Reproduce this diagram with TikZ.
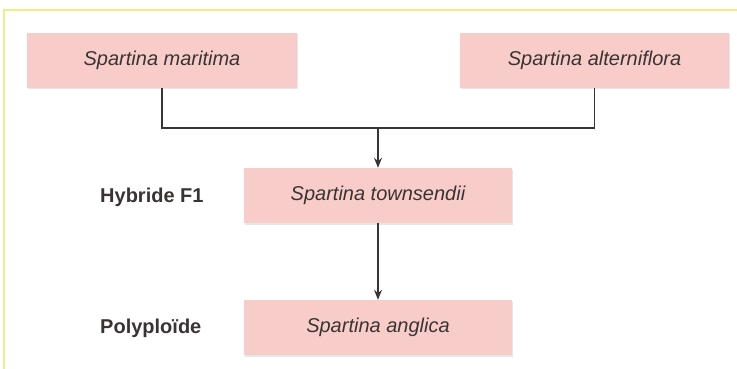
\documentclass[tikz,border=0pt]{standalone}
\usepackage{fontspec}
\setmainfont{Liberation Sans}
\usetikzlibrary{positioning,shadows,arrows.meta}
\definecolor{boxpink}{HTML}{F8CDC9}
\definecolor{frameyellow}{HTML}{F3EC86}
\definecolor{inkgrey}{HTML}{3A3333}
\tikzset{
	species/.style={
		rectangle, fill=boxpink, draw=none,
		minimum width=268pt, minimum height=55pt, inner sep=0pt,
		drop shadow={shadow xshift=1pt, shadow yshift=-1.5pt, opacity=.2},
		text=inkgrey, font={\fontsize{20}{24}\selectfont\itshape}
	},
	rank/.style={
		anchor=west, inner sep=0pt, text=inkgrey,
		font={\fontsize{20}{24}\selectfont\bfseries}
	},
	link/.style={line width=1.4pt, draw=inkgrey},
	>={Stealth[length=10pt,width=8pt]},
}
\begin{document}
\begin{tikzpicture}[x=1pt, y=-1pt]
\useasboundingbox (0,0) rectangle (737,369);
% frame
\draw [frameyellow, line width=2pt] (4,369) -- (4,10) -- (737,10);
% parents
\node [species, minimum width=270pt] (mar) at (162,60.5) {Spartina maritima};
\node [species, minimum width=269pt] (alt) at (594.5,60.5) {Spartina alterniflora};
% hybrid and polyploid
\node [species] (town) at (378,195.5) {Spartina townsendii};
\node [species] (angl) at (378,327.5) {Spartina anglica};
\node [rank] (hyb) at (100,197) {Hybride F1};
\node [rank] (poly) at (100,328) {Polyploïde};
% connectors
\coordinate (join) at (378,128);
\draw [link] (mar.south) |- (join) -| (alt.south);
\draw [link,->] (join) -- (town.north);
\draw [link,->] (town.south) -- (angl.north);
\end{tikzpicture}
\end{document}
